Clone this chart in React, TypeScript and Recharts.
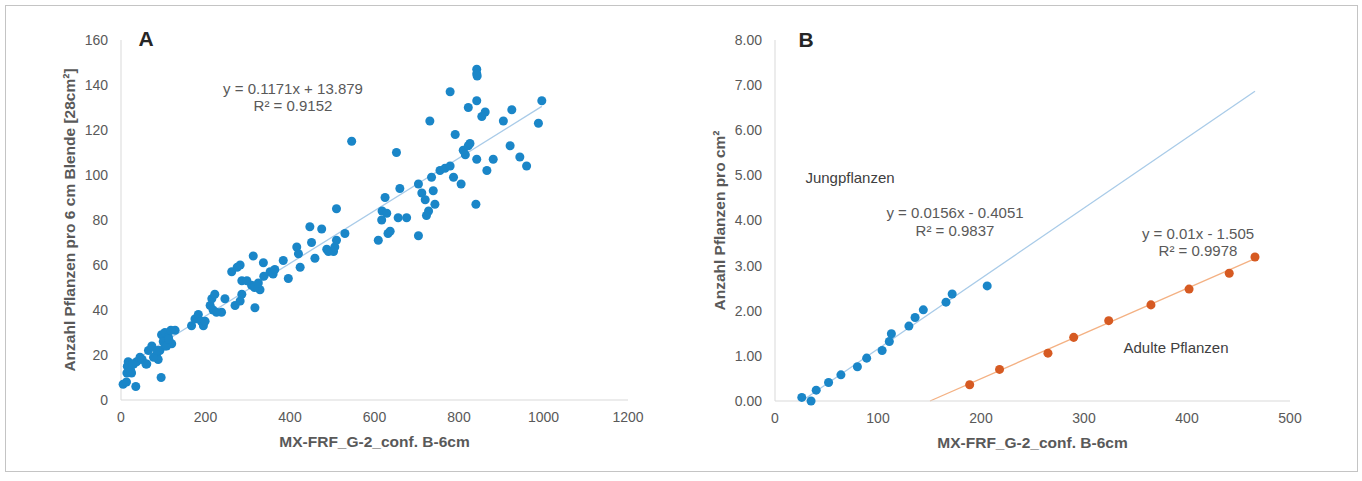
import { ScatterChart, Scatter, XAxis, YAxis, ZAxis, ReferenceLine, Label } from 'recharts'

// Panel A: MX-FRF vs. Anzahl Pflanzen pro 6 cm Blende
const aX = [
  5, 13, 35, 95, 17, 21, 25, 15, 30, 37, 45, 61, 65, 73, 84, 88, 92, 96, 100, 104, 104, 112, 120, 128, 118,
  14, 23, 27, 50, 59, 77, 86, 108, 113,
  167, 175, 183, 190, 195, 199, 211, 215, 222, 218, 238, 246, 262, 282, 270, 286, 286, 282, 309, 317, 313,
  329, 337, 353, 360, 364, 384, 396, 416, 420, 424, 451, 459, 447, 475, 487, 491, 503, 506, 510, 510, 530, 546,
  275, 298, 316, 325, 338, 226,
  609, 617, 618, 625, 629, 632, 637, 652, 656, 660, 676, 704, 704, 712, 720, 723, 728, 731, 735, 739, 743,
  755, 767, 779, 779, 787, 791, 805, 810, 815, 822, 826, 822, 842, 842, 842, 843, 842, 840, 854, 862, 866,
  881, 905, 925, 921, 944, 960, 988, 996,
]
const aY = [
  7, 8, 6, 10, 17, 14, 12, 15, 16, 17, 19, 16, 22, 24, 20, 18, 22, 29, 26, 24, 30, 28, 25, 31, 31,
  12, 13, 16, 18, 16, 19, 22, 24, 27,
  33, 36, 38, 35, 33, 35, 42, 45, 47, 40, 39, 45, 57, 60, 42, 53, 47, 44, 51, 41, 64,
  49, 61, 57, 56, 58, 62, 54, 68, 65, 59, 70, 63, 77, 76, 67, 66, 66, 68, 71, 85, 74, 115,
  59, 53, 50, 52, 55, 39,
  71, 80, 84, 90, 83, 74, 75, 110, 81, 94, 81, 73, 96, 92, 89, 82, 84, 124, 99, 93, 87,
  102, 103, 104, 137, 99, 118, 96, 111, 109, 113, 114, 130, 133, 147, 145, 144, 107, 87, 126, 128, 102,
  107, 124, 129, 113, 108, 104, 123, 133,
]

// Panel B: Jungpflanzen / Adulte Pflanzen
const jungX = [26, 35, 40, 52, 64, 80, 89, 104, 111, 113, 130, 136, 144, 166, 172, 206]
const jungY = [0.08, 0.0, 0.24, 0.41, 0.58, 0.76, 0.95, 1.12, 1.32, 1.49, 1.66, 1.85, 2.02, 2.19, 2.37, 2.55]
const adultX = [189, 218, 265, 290, 324, 365, 402, 441, 466]
const adultY = [0.36, 0.7, 1.06, 1.41, 1.78, 2.13, 2.48, 2.83, 3.19]

const aXTicks = [0, 200, 400, 600, 800, 1000, 1200]
const aYTicks = [0, 20, 40, 60, 80, 100, 120, 140, 160]
const bXTicks = [0, 100, 200, 300, 400, 500]
const bYTicks = [0, 1, 2, 3, 4, 5, 6, 7, 8]

// trend lines as printed on the figure
const aFit = { slope: 0.1171, icept: 13.879, from: 5, to: 996 }
const jungFit = { slope: 0.0156, icept: -0.4051, from: 26, to: 466 }
const adultFit = { slope: 0.01, icept: -1.505, from: 150.5, to: 466 }

const FONT = '"Liberation Sans", Arial, sans-serif'
const TXT = '#595959'
const AXIS = '#d9d9d9'
const BLUE = '#1a86c8'
const BLUE_LINE = '#a9cbe8'
const ORANGE = '#d65a22'
const ORANGE_LINE = '#f4b183'
const TITLE_SIZE = 15.5

const zip = (xs: number[], ys: number[]) => xs.map((x, i) => ({ x, y: ys[i] }))
const seg = (f: { slope: number; icept: number; from: number; to: number }) => [
  { x: f.from, y: f.slope * f.from + f.icept },
  { x: f.to, y: f.slope * f.to + f.icept },
]

const tickStyle = { fill: TXT, fontSize: 14, fontFamily: FONT }
const xTitleStyle = { fill: TXT, fontSize: TITLE_SIZE, fontWeight: 'bold', fontFamily: FONT }

const yTitle = (text: string, dx: number) => (props: any) => {
  const { x, y, height } = props.viewBox
  const cx = x + dx
  const cy = y + height / 2
  return (
    <text x={cx} y={cy} transform={`rotate(-90 ${cx} ${cy})`} textAnchor="middle" dominantBaseline="central"
      fontFamily={FONT} fontWeight="bold" fontSize={TITLE_SIZE} fill={TXT}>{text}</text>
  )
}

function Note({ x, y, children, size = 15, color = TXT, weight = 'normal' }: any) {
  return (
    <div style={{
      position: 'absolute', left: x, top: y, transform: 'translate(-50%, -50%)', whiteSpace: 'nowrap',
      fontFamily: FONT, fontSize: size, lineHeight: 1, color, fontWeight: weight,
    }}>{children}</div>
  )
}

export default function App() {
  return (
    <div style={{ position: 'absolute', left: 0, top: 0, width: 1362, height: 481, background: '#fff' }}>
      <div style={{ position: 'absolute', left: 5, top: 5, width: 1351, height: 465, border: '1px solid #c4c4c4' }} />

      <div style={{ position: 'absolute', left: 0, top: 0 }}>
        <ScatterChart width={700} height={481} margin={{ top: 40, right: 72, bottom: 31, left: 5 }}>
          <XAxis type="number" dataKey="x" domain={[0, 1200]} ticks={aXTicks} interval={0} height={50}
            tickLine={false} axisLine={{ stroke: AXIS }} tick={tickStyle} tickMargin={6}>
            <Label value="MX-FRF_G-2_conf. B-6cm" position="insideBottom" offset={3} style={xTitleStyle} />
          </XAxis>
          <YAxis type="number" dataKey="y" domain={[0, 160]} ticks={aYTicks} interval={0} width={116}
            tickLine={false} axisLine={{ stroke: AXIS }} tick={tickStyle} tickMargin={7}>
            <Label content={yTitle('Anzahl Pflanzen pro 6 cm Blende [28cm²]', 64)} />
          </YAxis>
          <ZAxis range={[42, 42]} />
          <Scatter data={zip(aX, aY)} fill={BLUE} isAnimationActive={false} />
          <ReferenceLine segment={seg(aFit)} stroke={BLUE_LINE} strokeWidth={1.3} ifOverflow="visible" />
        </ScatterChart>
      </div>

      <div style={{ position: 'absolute', left: 700, top: 0 }}>
        <ScatterChart width={662} height={481} margin={{ top: 40, right: 72, bottom: 30, left: 5 }}>
          <XAxis type="number" dataKey="x" domain={[0, 500]} ticks={bXTicks} interval={0} height={50}
            tickLine={false} axisLine={{ stroke: AXIS }} tick={tickStyle} tickMargin={6}>
            <Label value="MX-FRF_G-2_conf. B-6cm" position="insideBottom" offset={3} style={xTitleStyle} />
          </XAxis>
          <YAxis type="number" dataKey="y" domain={[0, 8]} ticks={bYTicks} interval={0} width={70}
            tickLine={false} axisLine={{ stroke: AXIS }} tick={tickStyle} tickMargin={7}
            tickFormatter={(v: number) => v.toFixed(2)}>
            <Label content={yTitle('Anzahl Pflanzen pro cm²', 14)} />
          </YAxis>
          <ZAxis range={[42, 42]} />
          <ReferenceLine segment={seg(jungFit)} stroke={BLUE_LINE} strokeWidth={1.3} ifOverflow="visible" />
          <ReferenceLine segment={seg(adultFit)} stroke={ORANGE_LINE} strokeWidth={1.3} ifOverflow="visible" />
          <Scatter data={zip(jungX, jungY)} fill={BLUE} isAnimationActive={false} />
          <Scatter data={zip(adultX, adultY)} fill={ORANGE} isAnimationActive={false} />
        </ScatterChart>
      </div>

      <Note x={146} y={38} size={21} color="#262626" weight="bold">A</Note>
      <Note x={806} y={39} size={21} color="#262626" weight="bold">B</Note>

      <Note x={293} y={88}>y = 0.1171x + 13.879</Note>
      <Note x={293} y={105}>R² = 0.9152</Note>

      <Note x={850} y={177} color="#404040">Jungpflanzen</Note>
      <Note x={955} y={212}>y = 0.0156x - 0.4051</Note>
      <Note x={955} y={230}>R² = 0.9837</Note>
      <Note x={1198} y={233}>y = 0.01x - 1.505</Note>
      <Note x={1198} y={250}>R² = 0.9978</Note>
      <Note x={1176} y={347} color="#404040">Adulte Pflanzen</Note>
    </div>
  )
}
